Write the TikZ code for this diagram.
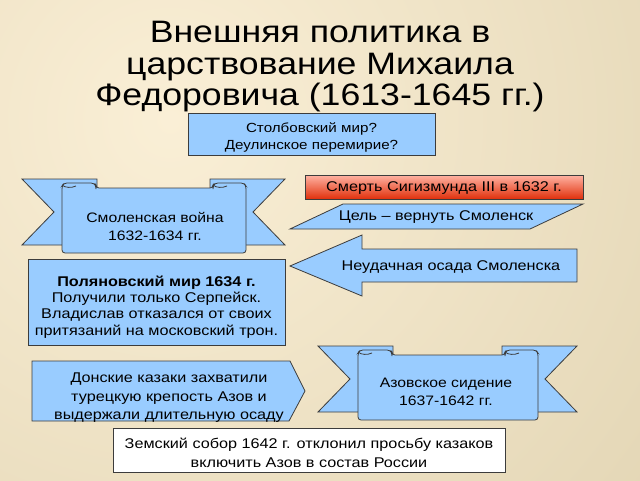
\documentclass[tikz,border=0pt]{standalone}
\usepackage{fontspec}
\setmainfont{Liberation Sans}[FakeStretch=1.15]
\definecolor{bgA}{HTML}{FAEFD6}
\definecolor{bgB}{HTML}{D2C39C}
\definecolor{sky}{HTML}{99CCFF}
\definecolor{rim}{HTML}{3C3C3C}
\definecolor{redA}{HTML}{FFB3A3}
\definecolor{redM}{HTML}{FF5E3E}
\definecolor{redB}{HTML}{E0300C}
\begin{document}
\begin{tikzpicture}[x=1pt,y=-1pt,inner sep=0pt,outer sep=0pt,
box/.style={draw=rim,fill=sky,line width=0.8pt},
txt/.style={align=center,font=\fontsize{14.1}{18}\selectfont}]
\useasboundingbox (0,0) rectangle (640,480);
\begin{scope}
\clip (0,0) rectangle (640,480);
\shade[inner color=bgA,outer color=bgB] (170,120) circle (1100);
\end{scope}
\node[align=center,font=\fontsize{31}{31.5}\selectfont] (title) at (320,67) {Внешняя политика в\\царствование Михаила\\Федоровича (1613-1645 гг.)};
\node[box,minimum width=247,minimum height=42] (stolb) at (311.5,134) {};
\node[txt,font=\fontsize{13.2}{17}\selectfont] (stolbtxt) at (311.5,137) {Столбовский мир?\\Деулинское перемирие?};
% ribbons
\foreach \xa/\xb/\ya in {22/285/179,318/577/346}{
  \draw[box] (\xa,\ya) -- (\xa+75,\ya) -- (\xa+75,\ya+66) -- (\xa,\ya+66) -- (\xa+32,\ya+33) -- cycle;
  \draw[box] (\xb,\ya) -- (\xb-75,\ya) -- (\xb-75,\ya+66) -- (\xb,\ya+66) -- (\xb-32,\ya+33) -- cycle;
  \draw[box,rounded corners=3] (\xa+40,\ya+7) -- (\xa+40,\ya+74) -- (\xb-39,\ya+74) -- (\xb-39,\ya+7) -- (\xb-41,\ya+4)
    -- (\xb-70,\ya+4) -- (\xb-72,\ya+7) -- (\xb-72,\ya+9) -- (\xa+74,\ya+9) -- (\xa+74,\ya+7) -- (\xa+72,\ya+4) -- (\xa+42,\ya+4) -- cycle;
  \draw[rim,line width=0.8pt] (\xa+40,\ya+6) .. controls (\xa+43,\ya+9) and (\xa+50,\ya+9) .. (\xa+54,\ya+7);
  \draw[rim,line width=0.8pt] (\xb-72,\ya+6) .. controls (\xb-69,\ya+9) and (\xb-62,\ya+9) .. (\xb-58,\ya+7);
}
\node[txt,font=\fontsize{13.7}{18}\selectfont] (smol) at (155,226) {Смоленская война\\1632-1634 гг.};
\node[txt,font=\fontsize{13.7}{18.5}\selectfont] (azov) at (446,392) {Азовское сидение\\1637-1642 гг.};
\node[draw=rim,line width=0.8pt,top color=redA,middle color=redM,bottom color=redB,minimum width=278,minimum height=24] (death) at (444,187) {};
\node[txt] (deathtxt) at (444,188) {Смерть Сигизмунда III в 1632 г.};
\draw[box] (290,229) -- (343,204) -- (583,204) -- (530,229) -- cycle;
\node[txt] (goal) at (436,217) {Цель – вернуть Смоленск};
\draw[box] (290,266) -- (362,235) -- (362,249) -- (577,249) -- (577,282) -- (362,282) -- (362,296) -- cycle;
\node[txt] (siege) at (451,267) {Неудачная осада Смоленска};
\node[box,minimum width=257,minimum height=86] (polyan) at (156.5,302) {};
\node[txt,font=\fontsize{14.1}{16.3}\selectfont] (polyantxt) at (156.5,307) {\textbf{Поляновский мир 1634 г.}\\Получили только Серпейск.\\Владислав отказался от своих\\притязаний на московский трон.};
\draw[box] (32,361) -- (290,361) -- (305,391) -- (289,421) -- (32,421) -- cycle;
\node[txt,font=\fontsize{14.1}{18.5}\selectfont] (don) at (169,398) {Донские казаки захватили\\турецкую крепость Азов и\\выдержали длительную осаду};
\node[draw=rim,fill=white,line width=0.8pt,minimum width=392,minimum height=44] (sobor) at (309,450) {};
\node[txt,font=\fontsize{14.1}{19}\selectfont] (sobortxt) at (309,453) {Земский собор 1642 г. отклонил просьбу казаков\\включить Азов в состав России};
\end{tikzpicture}
\end{document}
